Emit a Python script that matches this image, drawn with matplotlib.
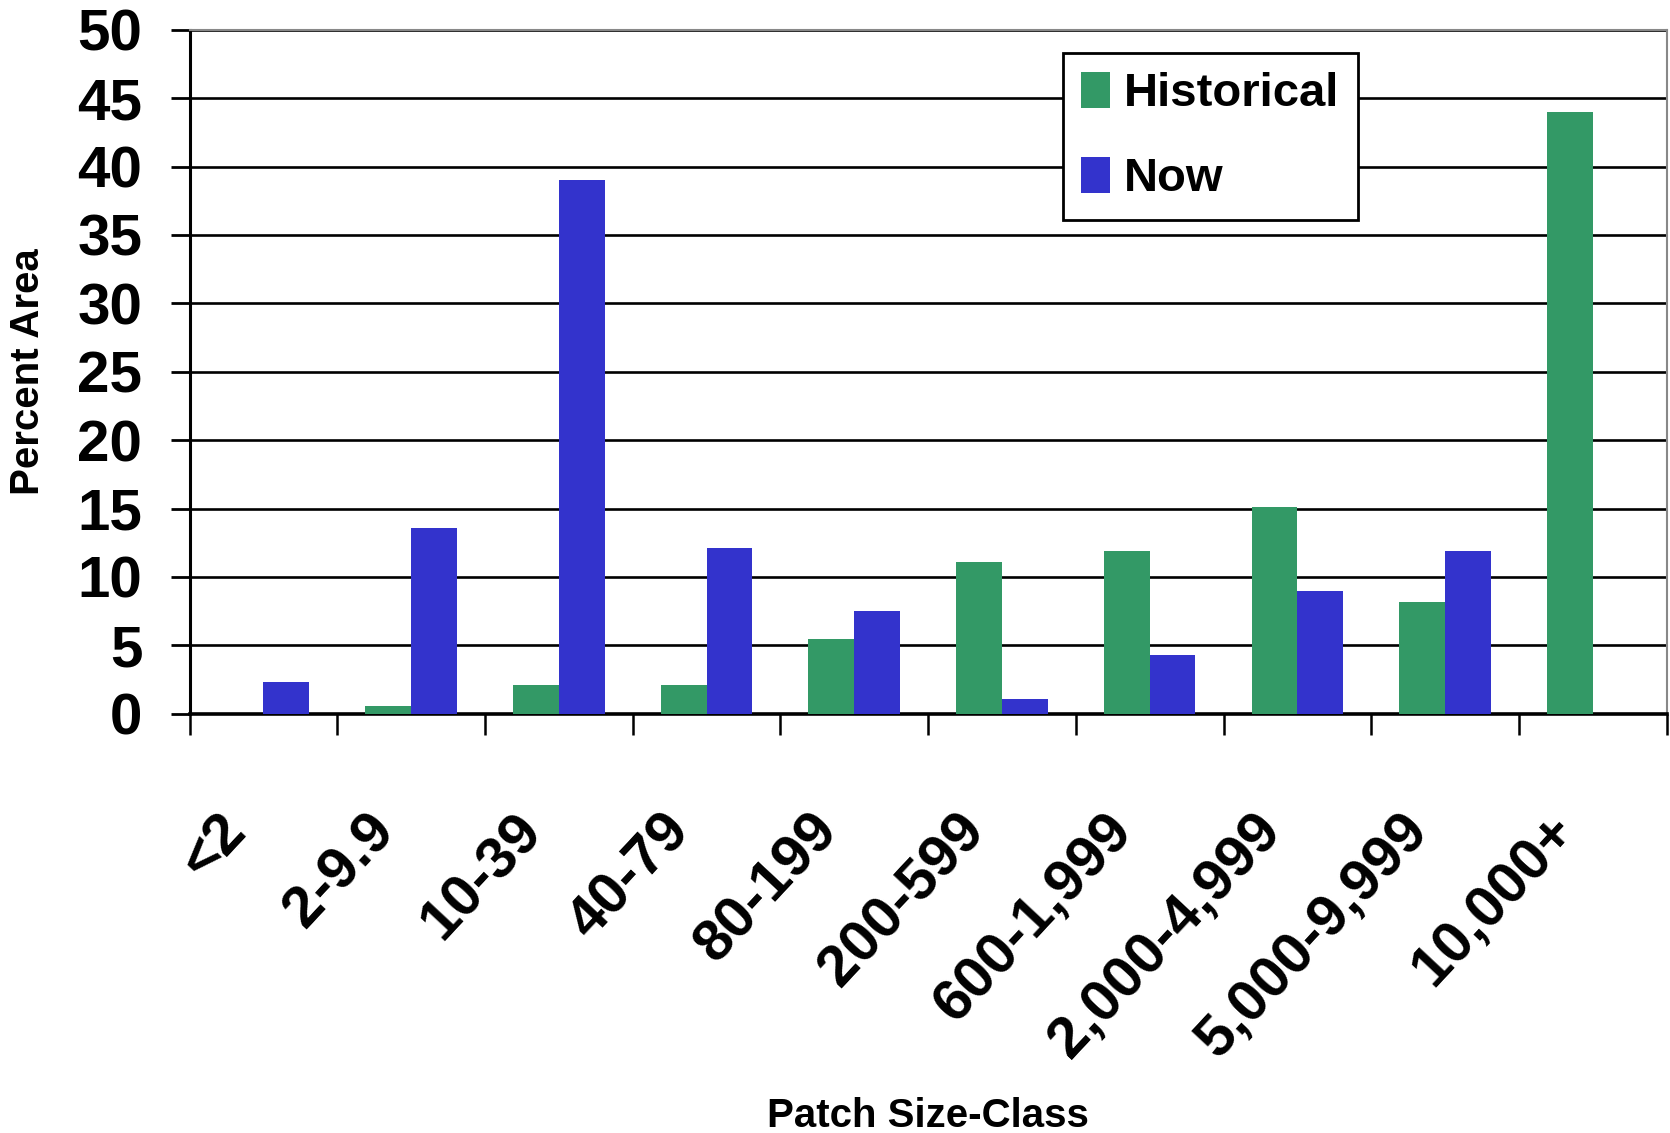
import matplotlib
matplotlib.use('Agg')
import matplotlib.pyplot as plt
import matplotlib.transforms as mtransforms
import numpy as np

# patch size classes and percent of area in each
size_classes = ['<2', '2-9.9', '10-39', '40-79', '80-199', '200-599',
                '600-1,999', '2,000-4,999', '5,000-9,999', '10,000+']
historical = [0.0, 0.55, 2.1, 2.1, 5.5, 11.1, 11.9, 15.1, 8.2, 44.0]
now = [2.3, 13.6, 39.0, 12.15, 7.5, 1.1, 4.3, 8.95, 11.9, 0.0]
y_ticks = [0, 5, 10, 15, 20, 25, 30, 35, 40, 45, 50]

plt.rcParams['font.family'] = ['Liberation Sans', 'DejaVu Sans']
plt.rcParams['font.weight'] = 'bold'

fig = plt.figure(figsize=(16.7, 11.33), dpi=100)
ax = fig.add_axes([0.1135, 0.370, 0.8845, 0.6037])

x = np.arange(len(size_classes))
w = 0.31
ax.bar(x - w / 2, historical, w, color='#339966', label='Historical', zorder=3)
ax.bar(x + w / 2, now, w, color='#3333CC', label='Now', zorder=3)

ax.set_xlim(-0.5, len(size_classes) - 0.5)
ax.set_ylim(0, 50)
ax.set_yticks(y_ticks)
ax.set_axisbelow(True)
ax.yaxis.grid(True, color='black', linewidth=1.9)

# spines
ax.spines['left'].set_linewidth(2.2)
ax.spines['bottom'].set_linewidth(2.6)
ax.spines['top'].set_color('#888888')
ax.spines['top'].set_linewidth(1.5)
ax.spines['right'].set_color('#888888')
ax.spines['right'].set_linewidth(1.5)

# y ticks
ax.tick_params(axis='y', direction='out', length=14, width=2, pad=20, labelsize=42)

# x: labels at centres, tick marks at class boundaries
ax.set_xticks(x)
ax.set_xticklabels(size_classes, rotation=47, ha='right', va='center',
                   rotation_mode='anchor', fontsize=42)
ax.tick_params(axis='x', which='major', length=0, pad=78)
ax.set_xticks(np.arange(len(size_classes) + 1) - 0.5, minor=True)
ax.tick_params(axis='x', which='minor', direction='out', length=15, width=1.8)
shift = mtransforms.ScaledTranslation(-0.26, 0, fig.dpi_scale_trans)
for lbl in ax.get_xticklabels():
    lbl.set_transform(lbl.get_transform() + shift)

ax.set_ylabel('Percent Area', fontsize=29, fontweight='bold')
ax.yaxis.set_label_coords(-0.1097, 0.5)
ax.yaxis.label.set_va('center')
ax.set_xlabel('Patch Size-Class', fontsize=29, fontweight='bold')
ax.xaxis.set_label_coords(0.5, -0.588)
ax.xaxis.label.set_va('center')

leg = ax.legend(loc='upper left', bbox_to_anchor=(0.591, 0.966), borderaxespad=0,
                fontsize=34, handlelength=0.6, handleheight=0.8,
                handletextpad=0.3, borderpad=0.4, labelspacing=0.85,
                fancybox=False, framealpha=1, edgecolor='black')
leg.get_frame().set_linewidth(2)
leg.set_zorder(5)

plt.savefig('out.png', dpi=100)
